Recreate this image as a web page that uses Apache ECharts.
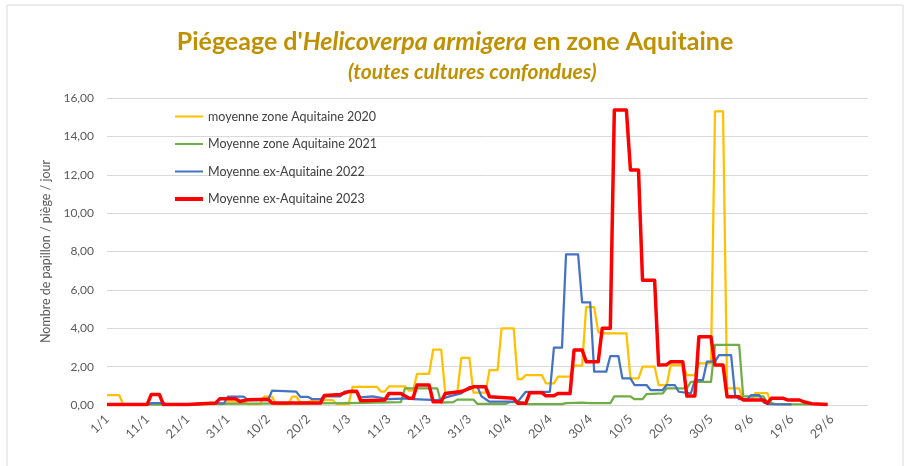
<!DOCTYPE html>
<html>
	<head>
		<meta charset="UTF-8">
		<title>Piégeage Helicoverpa armigera</title>
		<script src="https://cdn.jsdelivr.net/npm/echarts@6/dist/echarts.min.js"></script>
		<style>
			html, body { margin: 0; padding: 0; background: #fff; }
			#chart { width: 910px; height: 466px; }
		</style>
	</head>
	<body>
		<div id="chart"></div>
		<script>
			// étiquettes de l'axe des x (un repère tous les 10 jours, 1/1 = jour 0)
			var xLabels = ['1/1','11/1','21/1','31/1','10/2','20/2','1/3','11/3','21/3','31/3',
				'10/4','20/4','30/4','10/5','20/5','30/5','9/6','19/6','29/6'];

			var seriesNames = ['moyenne zone Aquitaine 2020', 'Moyenne zone Aquitaine 2021',
				'Moyenne ex-Aquitaine 2022', 'Moyenne ex-Aquitaine 2023'];

			// points : [jour depuis le 1/1, papillons / piège / jour]
			var data2020 = [[0,0.52],[3,0.52],[4,0.05],[29,0.05],[30,0.17],[34,0.17],[35,0.05],[38,0.05],
				[39,0.43],[41,0.43],[42,0.05],[45,0.05],[46,0.43],[47,0.43],[48,0.15],[50,0.15],[51,0.26],
				[56,0.26],[57,0.05],[60,0.05],[61,0.95],[67,0.95],[68,0.7],[69,0.7],[70,0.97],[74,0.97],
				[75,0.75],[76,0.75],[77,1.62],[80,1.62],[81,2.88],[83,2.88],[84,0.65],[87,0.65],[88,2.45],
				[90,2.45],[91,0.65],[94,0.65],[95,1.82],[97,1.82],[98,4.0],[101,4.0],[102,1.35],[103,1.35],
				[104,1.56],[108,1.56],[109,1.13],[111,1.13],[112,1.48],[115,1.48],[116,2.05],[118,2.05],
				[119,5.1],[121,5.1],[122,3.8],[123,3.73],[129,3.73],[130,1.39],[132,1.39],[133,2.0],
				[136,2.0],[137,1.04],[139,1.04],[140,2.08],[143,2.08],[144,1.56],[146,1.56],[147,2.17],
				[150,2.17],[151,15.3],[153,15.3],[154,0.87],[157,0.87],[158,0.26],[160,0.26],[161,0.62],
				[164,0.62],[165,0.05],[170,0.03]];

			var data2021 = [[0,0.02],[20,0.02],[25,0.06],[50,0.08],[60,0.1],[73,0.15],[74,0.87],[82,0.87],
				[83,0.12],[86,0.15],[87,0.28],[91,0.28],[92,0.06],[99,0.06],[100,0.15],[103,0.15],[104,0.05],
				[113,0.05],[114,0.1],[118,0.13],[120,0.1],[125,0.1],[126,0.45],[130,0.45],[131,0.3],[133,0.3],
				[134,0.57],[138,0.6],[139,0.87],[144,0.87],[145,1.2],[150,1.2],[151,3.13],[157,3.13],
				[158,0.45],[163,0.45],[164,0.15],[166,0.05],[175,0.03]];

			var data2022 = [[0,0.02],[10,0.02],[11,0.1],[14,0.1],[15,0.02],[20,0.02],[24,0.08],[29,0.08],
				[30,0.43],[34,0.43],[35,0.26],[40,0.26],[41,0.75],[47,0.7],[48,0.42],[50,0.42],[51,0.3],
				[53,0.3],[54,0.45],[58,0.45],[59,0.7],[62,0.7],[63,0.4],[66,0.45],[70,0.3],[75,0.35],
				[76,0.3],[82,0.25],[83,0.3],[85,0.45],[88,0.6],[90,0.95],[92,0.95],[93,0.45],[95,0.17],
				[102,0.17],[104,0.69],[110,0.69],[111,2.99],[113,2.99],[114,7.85],[117,7.85],[118,5.35],
				[120,5.35],[121,1.74],[124,1.74],[125,2.55],[127,2.55],[128,1.39],[130,1.39],[131,1.04],
				[134,1.04],[135,0.78],[138,0.78],[139,1.04],[141,1.04],[142,0.69],[145,0.6],[146,1.3],
				[148,1.3],[149,2.26],[151,2.26],[152,2.6],[155,2.6],[156,0.52],[157,0.3],[159,0.3],
				[160,0.52],[162,0.52],[163,0.15],[164,0.05],[170,0.03]];

			var data2023 = [[0,0.03],[10,0.03],[11,0.55],[13,0.55],[14,0.03],[20,0.03],[27,0.1],[28,0.32],
				[32,0.32],[33,0.18],[35,0.28],[40,0.3],[41,0.1],[53,0.1],[54,0.5],[58,0.55],[60,0.7],
				[62,0.72],[63,0.22],[69,0.26],[70,0.6],[73,0.6],[75,0.35],[76,0.35],[77,1.04],[80,1.04],
				[81,0.17],[83,0.17],[84,0.6],[88,0.7],[91,0.95],[94,0.95],[95,0.43],[101,0.35],[102,0.09],
				[104,0.09],[105,0.64],[108,0.64],[109,0.48],[111,0.48],[112,0.6],[115,0.6],[116,2.87],
				[118,2.87],[119,2.26],[122,2.26],[123,4.0],[125,4.0],[126,15.37],[129,15.37],[130,12.25],
				[132,12.25],[133,6.5],[136,6.5],[137,2.08],[139,2.1],[140,2.26],[143,2.26],[144,0.47],
				[146,0.47],[147,3.56],[150,3.56],[151,2.08],[153,2.08],[154,0.43],[157,0.43],[158,0.26],
				[163,0.26],[164,0.1],[165,0.35],[168,0.35],[169,0.26],[172,0.26],[173,0.17],[175,0.07],
				[179,0.03]];

			var chart = echarts.init(document.getElementById('chart'));

			var gold = '#BF9000';
			var fontFam = 'Lato, "Open Sans", sans-serif';
			var thinIcon = 'path://M0,0H28V2H0Z';
			var thickIcon = 'path://M0,0H28V4H0Z';

			var option = {
				animation: false,
				backgroundColor: '#fff',
				textStyle: { fontFamily: fontFam },
				// cadre du graphique
				graphic: [{
					type: 'rect',
					shape: { x: 7, y: 5, width: 896, height: 470 },
					style: { fill: 'none', stroke: '#D9D9D9', lineWidth: 1 },
					silent: true
				}],
				title: [{
					text: "{n|Piégeage d'}{i|Helicoverpa armigera}{n| en zone Aquitaine}",
					left: 'center',
					top: 24,
					textStyle: {
						rich: {
							n: { fontFamily: fontFam, fontSize: 25, fontWeight: 'bold', color: gold },
							i: { fontFamily: fontFam, fontSize: 25, fontWeight: 'bold', fontStyle: 'italic', color: gold }
						}
					}
				}, {
					text: '(toutes cultures confondues)',
					left: 343,
					top: 57,
					textStyle: { fontFamily: fontFam, fontSize: 21, fontWeight: 'bold', fontStyle: 'italic', color: gold }
				}],
				legend: {
					orient: 'vertical',
					left: 170,
					top: 105,
					itemWidth: 28,
					itemHeight: 14,
					itemGap: 14.5,
					textStyle: { color: '#404040', fontSize: 12.5, fontFamily: fontFam },
					data: [
						{ name: seriesNames[0], icon: thinIcon },
						{ name: seriesNames[1], icon: thinIcon },
						{ name: seriesNames[2], icon: thinIcon },
						{ name: seriesNames[3], icon: thickIcon }
					]
				},
				grid: { left: 107, right: 42, top: 98, bottom: 61, containLabel: false },
				xAxis: {
					type: 'value',
					min: 0,
					max: 189,
					interval: 10,
					axisLine: { show: true, lineStyle: { color: '#D9D9D9' } },
					axisTick: { show: false },
					splitLine: { show: false },
					axisLabel: {
						rotate: 45,
						margin: 12,
						color: '#595959',
						fontSize: 12.5,
						showMaxLabel: false,
						formatter: function (v) {
							return v % 10 === 0 ? (xLabels[v / 10] || '') : '';
						}
					}
				},
				yAxis: {
					type: 'value',
					min: 0,
					max: 16,
					interval: 2,
					name: 'Nombre de papillon / piège / jour',
					nameLocation: 'middle',
					nameGap: 47,
					nameTextStyle: { color: '#595959', fontSize: 12.5 },
					axisLine: { show: false },
					axisTick: { show: false },
					splitLine: { lineStyle: { color: '#D9D9D9' } },
					axisLabel: {
						color: '#595959',
						fontSize: 12,
						margin: 13,
						formatter: function (v) { return v.toFixed(2).replace('.', ','); }
					}
				},
				series: [{
					name: seriesNames[0], type: 'line', data: data2020, symbol: 'none',
					itemStyle: { color: '#FFC000' }, lineStyle: { width: 2.25, color: '#FFC000', join: 'round' }
				}, {
					name: seriesNames[1], type: 'line', data: data2021, symbol: 'none',
					itemStyle: { color: '#70AD47' }, lineStyle: { width: 2.25, color: '#70AD47', join: 'round' }
				}, {
					name: seriesNames[2], type: 'line', data: data2022, symbol: 'none',
					itemStyle: { color: '#4472C4' }, lineStyle: { width: 2.25, color: '#4472C4', join: 'round' }
				}, {
					name: seriesNames[3], type: 'line', data: data2023, symbol: 'none',
					itemStyle: { color: '#FF0000' }, lineStyle: { width: 3.5, color: '#FF0000', join: 'round' }
				}]
			};

			chart.setOption(option);
		</script>
	</body>
</html>
